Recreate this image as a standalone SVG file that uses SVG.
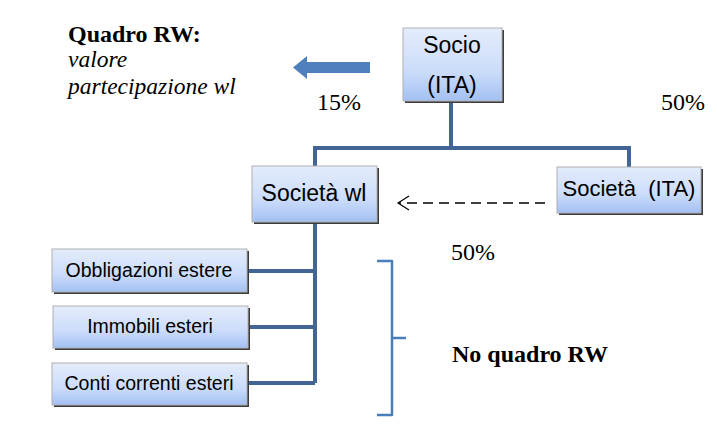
<svg xmlns="http://www.w3.org/2000/svg" width="717" height="425" viewBox="0 0 717 425">
<defs>
<linearGradient id="g" x1="0" y1="0" x2="0" y2="1">
<stop offset="0" stop-color="#e4ecfc"/>
<stop offset="0.6" stop-color="#cbdcfa"/>
<stop offset="1" stop-color="#a3c0f3"/>
</linearGradient>
<marker id="open" markerWidth="14" markerHeight="16" refX="12" refY="8" orient="auto" markerUnits="userSpaceOnUse">
<path d="M1,1 L12,8 L1,15" fill="none" stroke="#000" stroke-width="1.2"/>
</marker>
</defs>
<style>
.box{fill:url(#g);stroke:#b0b0b0;stroke-width:1}
.sh{fill:#3c3c3c}
.t{font-family:"Liberation Sans",Arial,sans-serif;fill:#000;text-anchor:middle}
.conn{fill:none;stroke:#436596;stroke-width:4;stroke-linejoin:miter}
.serif{font-family:"Liberation Serif","Times New Roman",serif;fill:#000;font-size:24px}
</style>
<rect width="717" height="425" fill="#fff"/>
<g id="connectors">
<path class="conn" d="M451,101 V148 M315,166 V148 H629 V167"/>
<path class="conn" d="M315,222 V383 M247,271 H315 M248,327 H315 M247,383 H315"/>
<line x1="545" y1="203" x2="398" y2="203" stroke="#000" stroke-width="1.3" stroke-dasharray="10,6" marker-end="url(#open)"/>
</g>
<g id="socio">
<rect class="sh" x="405" y="30" width="99" height="73"/>
<rect class="box" x="403" y="28" width="99" height="73"/>
<text class="t" x="452" y="53" font-size="23">Socio</text>
<text class="t" x="452" y="93" font-size="23">(ITA)</text>
</g>
<g id="societa-wl">
<rect class="sh" x="254" y="168" width="125" height="56"/>
<rect class="box" x="252" y="166" width="125" height="56"/>
<text class="t" x="314" y="201" font-size="23">Società wl</text>
</g>
<g id="societa-ita">
<rect class="sh" x="559" y="169" width="144" height="46"/>
<rect class="box" x="557" y="167" width="144" height="46"/>
<text class="t" x="629" y="196" font-size="22" xml:space="preserve">Società  (ITA)</text>
</g>
<g id="obbligazioni">
<rect class="sh" x="54" y="251" width="195" height="43"/>
<rect class="box" x="52" y="249" width="195" height="43"/>
<text class="t" x="149" y="277" font-size="19.5">Obbligazioni estere</text>
</g>
<g id="immobili">
<rect class="sh" x="55" y="308" width="195" height="42"/>
<rect class="box" x="53" y="306" width="195" height="42"/>
<text class="t" x="150" y="333" font-size="19.5">Immobili esteri</text>
</g>
<g id="conti">
<rect class="sh" x="54" y="365" width="195" height="42"/>
<rect class="box" x="52" y="363" width="195" height="42"/>
<text class="t" x="149" y="390" font-size="19.5">Conti correnti esteri</text>
</g>
<g id="rw-arrow">
<path d="M370,62 H307 V56 L293,67.5 L307,79 V73 H370 Z" fill="#4f7fbc"/>
</g>
<g id="labels">
<text class="serif" x="68" y="42" font-weight="bold">Quadro RW:</text>
<text class="serif" x="68" y="67" font-style="italic" style="font-size:23.5px">valore</text>
<text class="serif" x="68" y="94" font-style="italic" style="font-size:23.5px">partecipazione wl</text>
<text class="serif" x="317" y="110">15%</text>
<text class="serif" x="661" y="110">50%</text>
<text class="serif" x="451" y="260">50%</text>
<text class="serif" x="452" y="362" font-weight="bold">No quadro RW</text>
</g>
<g id="brace">
<path d="M377,261 H392 V338 H406 M392,338 V415 H377" fill="none" stroke="#4a7ebb" stroke-width="2.5" stroke-linejoin="round"/>
</g>
</svg>
